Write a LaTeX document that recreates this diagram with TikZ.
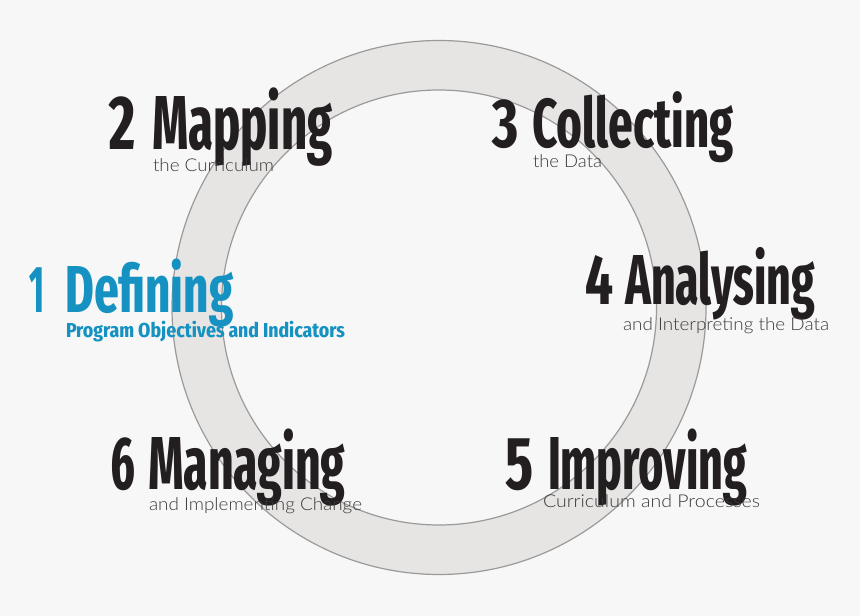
\documentclass[tikz,border=0pt]{standalone}
\usepackage{fontspec}
\usepackage{graphicx}
\IfFontExistsTF{Fira Sans Extra Condensed}
  {\newfontfamily\tfont{Fira Sans Extra Condensed}}
  {\IfFontExistsTF{Fira Sans Condensed}
     {\newfontfamily\tfont{Fira Sans Condensed}}
     {\newfontfamily\tfont{Fira Sans}}}
\IfFontExistsTF{Lato Light}
  {\newfontfamily\sfontx{Lato Light}}
  {\newfontfamily\sfontx{Lato}}
\definecolor{bgc}{HTML}{F7F7F7}
\definecolor{ringfill}{HTML}{E6E5E4}
\definecolor{ringline}{HTML}{9A9A9A}
\definecolor{dark}{HTML}{231F20}
\definecolor{blue1}{HTML}{1592C1}
\definecolor{subc}{HTML}{3A3A3A}
\newlength\pxu \setlength\pxu{0.75pt}
\newcommand\fitbox[4]{\resizebox{#2\pxu}{#3\pxu}{#1\raisebox{0pt}[\fontcharht\font`H][0pt]{#4}}}
\tikzset{
  lbl/.style={inner sep=0pt, outer sep=0pt, anchor=base west},
  title/.style={lbl, text=dark},
  btitle/.style={lbl, text=blue1},
  subt/.style={lbl, text=subc},
  ring/.style={fill=ringfill, draw=ringline, line width=0.9, even odd rule}
}
\begin{document}
\begin{tikzpicture}[x=0.75pt,y=-0.75pt]
\useasboundingbox (0,0) rectangle (860,616);
\fill[bgc] (0,0) rectangle (860,616);
\coordinate (c) at (439,307.5);
\path[ring] (c) circle[radius=267] (c) circle[radius=217.5];
% 2 Mapping
\node[title] (n2) at (109,150) {\fitbox{\tfont\bfseries}{26}{53}{2}};
\node[title] (w2) at (152,150) {\fitbox{\tfont\bfseries}{180}{53}{Mapping}};
\node[subt] (s2) at (153,172) {\fitbox{\sfontx}{121}{12.5}{the Curriculum}};
% 3 Collecting
\node[title] (n3) at (492,148) {\fitbox{\tfont\bfseries}{26}{48}{3}};
\node[title] (w3) at (532,148) {\fitbox{\tfont\bfseries}{201}{48}{Collecting}};
\node[subt] (s3) at (533,168) {\fitbox{\sfontx}{69}{12.5}{the Data}};
% 1 Defining
\node[btitle] (n1) at (30,313) {\fitbox{\tfont\bfseries}{15}{46}{1}};
\node[btitle] (w1) at (65,313) {\fitbox{\tfont\bfseries}{168}{46}{Defining}};
\node[btitle] (s1) at (66,338) {\fitbox{\tfont\bfseries}{279}{14}{Program Objectives and Indicators}};
% 4 Analysing
\node[title] (n4) at (585,305) {\fitbox{\tfont\bfseries}{28}{49}{4}};
\node[title] (w4) at (625,305) {\fitbox{\tfont\bfseries}{190}{49}{Analysing}};
\node[subt] (s4) at (623,330) {\fitbox{\sfontx}{206}{12.5}{and Interpreting the Data}};
% 6 Managing
\node[title] (n6) at (110,489) {\fitbox{\tfont\bfseries}{25}{52}{6}};
\node[title] (w6) at (148,489) {\fitbox{\tfont\bfseries}{197}{52}{Managing}};
\node[subt] (s6) at (149,510) {\fitbox{\sfontx}{213}{12.5}{and Implementing Change}};
% 5 Improving
\node[title] (n5) at (505,489) {\fitbox{\tfont\bfseries}{28}{52}{5}};
\node[title] (w5) at (548,489) {\fitbox{\tfont\bfseries}{199}{52}{Improving}};
\node[subt] (s5) at (543,507) {\fitbox{\sfontx}{217}{12.5}{Curriculum and Processes}};
\end{tikzpicture}
\end{document}
